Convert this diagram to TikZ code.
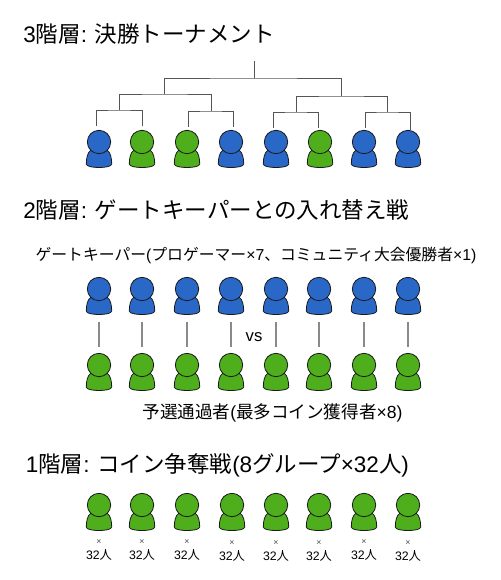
\documentclass[tikz,border=0pt]{standalone}
\usepackage{fontspec}
\setmainfont{Liberation Sans}
\newfontfamily\jp{Noto Sans CJK JP}
\usetikzlibrary{positioning}
\definecolor{pblue}{HTML}{2A68C8}
\definecolor{pgreen}{HTML}{4FAE1C}
\definecolor{treeline}{HTML}{555555}
\definecolor{linkline}{HTML}{8A8A8A}
\tikzset{
  person/.pic={
    \draw[fill=#1, draw=black!90, line width=0.45pt]
      (-12.7,22) .. controls (-12.7,16) and (-11.5,10.5) .. (-8,8) -- (8,8)
      .. controls (11.5,10.5) and (12.7,16) .. (12.7,22)
      .. controls (12.7,24.5) and (6,25.5) .. (0,25.5)
      .. controls (-6,25.5) and (-12.7,24.5) .. (-12.7,22) -- cycle;
    \draw[fill=#1, draw=black!90, line width=0.45pt] (0,0) circle (0.234cm);
    \coordinate (-top) at (0,-11.5);
    \coordinate (-bottom) at (0,25);
  },
  heading/.style={anchor=west, font=\fontsize{12.8pt}{15pt}\selectfont, inner sep=0pt},
  caption/.style={font=\fontsize{9pt}{11pt}\selectfont, inner sep=0pt},
  tinylabel/.style={font=\fontsize{5pt}{6pt}\selectfont, inner sep=0pt, text=black!70},
  countlabel/.style={font=\fontsize{7pt}{8pt}\selectfont, inner sep=0pt},
  treeedge/.style={draw=treeline, line width=0.5pt},
  linkedge/.style={draw=linkline, line width=0.6pt, shorten <=4.5pt, shorten >=3.7pt},
}
\begin{document}
\begin{tikzpicture}[x=0.02cm, y=-0.02cm]
  \useasboundingbox[fill=white] (0,0) rectangle (500,580);

  % 見出し
  \node[heading] (title3) at (23,34) {3{\jp 階層}:\hspace{4.4pt}{\jp 決勝トーナメント}};
  \node[heading] (title2) at (23,210) {2{\jp 階層}:\hspace{4.4pt}{\jp ゲートキーパーとの入れ替え戦}};
  \node[heading] (title1) at (25.5,465) {1{\jp 階層}:\hspace{4.4pt}{\jp コイン争奪戦}(8{\jp グループ}×32{\jp 人})};

  % 3階層
  \foreach \x/\c [count=\i] in {99/pblue,142/pgreen,187/pgreen,231/pblue,276/pblue,320/pgreen,364/pblue,408/pblue}
    \pic (t\i) at (\x,142) {person=\c};

  \coordinate (root) at (254,61);
  \coordinate (top) at (254,78);
  \coordinate (sfl) at (164,94);
  \coordinate (sfr) at (341,96);
  \coordinate (qf1) at (119,110);
  \coordinate (qf2) at (211,111);
  \coordinate (qf3) at (296,112);
  \coordinate (qf4) at (387,112);
  \coordinate (e1) at (96,126);
  \coordinate (e2) at (142,126);
  \coordinate (e3) at (188,127);
  \coordinate (e4) at (233,127);
  \coordinate (e5) at (273,128);
  \coordinate (e6) at (318,128);
  \coordinate (e7) at (365,128);
  \coordinate (e8) at (410,130);

  \draw[treeedge] (root) -- (top);
  \draw[treeedge] (sfl) |- (top) -| (sfr);
  \draw[treeedge] (qf1) |- (sfl) -| (qf2);
  \draw[treeedge] (qf3) |- (sfr) -| (qf4);
  \draw[treeedge] (e1) |- (qf1) -| (e2);
  \draw[treeedge] (e3) |- (qf2) -| (e4);
  \draw[treeedge] (e5) |- (qf3) -| (e6);
  \draw[treeedge] (e7) |- (qf4) -| (e8);

  % 2階層
  \node[caption] (gate) at (256,255) {{\jp ゲートキーパー}({\jp プロゲーマー}×7{\jp 、コミュニティ大会優勝者}×1)};
  \foreach \x [count=\i] in {99,142,187,231,276,319,364,408} {
    \pic (g\i) at (\x,289) {person=pblue};
    \pic (q\i) at (\x,365) {person=pgreen};
    \draw[linkedge] (g\i-bottom) -- (q\i-top);
  }
  \node[font=\fontsize{9.5pt}{11pt}\selectfont, inner sep=0pt] (vs) at (254,337) {vs};
  \node[caption, font=\fontsize{10pt}{12pt}\selectfont] (qual) at (272.5,413) {{\jp 予選通過者}({\jp 最多コイン獲得者}×8)};

  % 1階層
  \foreach \x/\d [count=\i] in {99/0,142/0,187/0,232/1,276/1,319/1,364/0,408/1} {
    \pic (c\i) at (\x,505) {person=pgreen};
    \node[tinylabel] (m\i) at (\x,{542+\d}) {×};
    \node[countlabel] (n\i) at (\x,{555+\d}) {32{\jp 人}};
  }
\end{tikzpicture}
\end{document}
